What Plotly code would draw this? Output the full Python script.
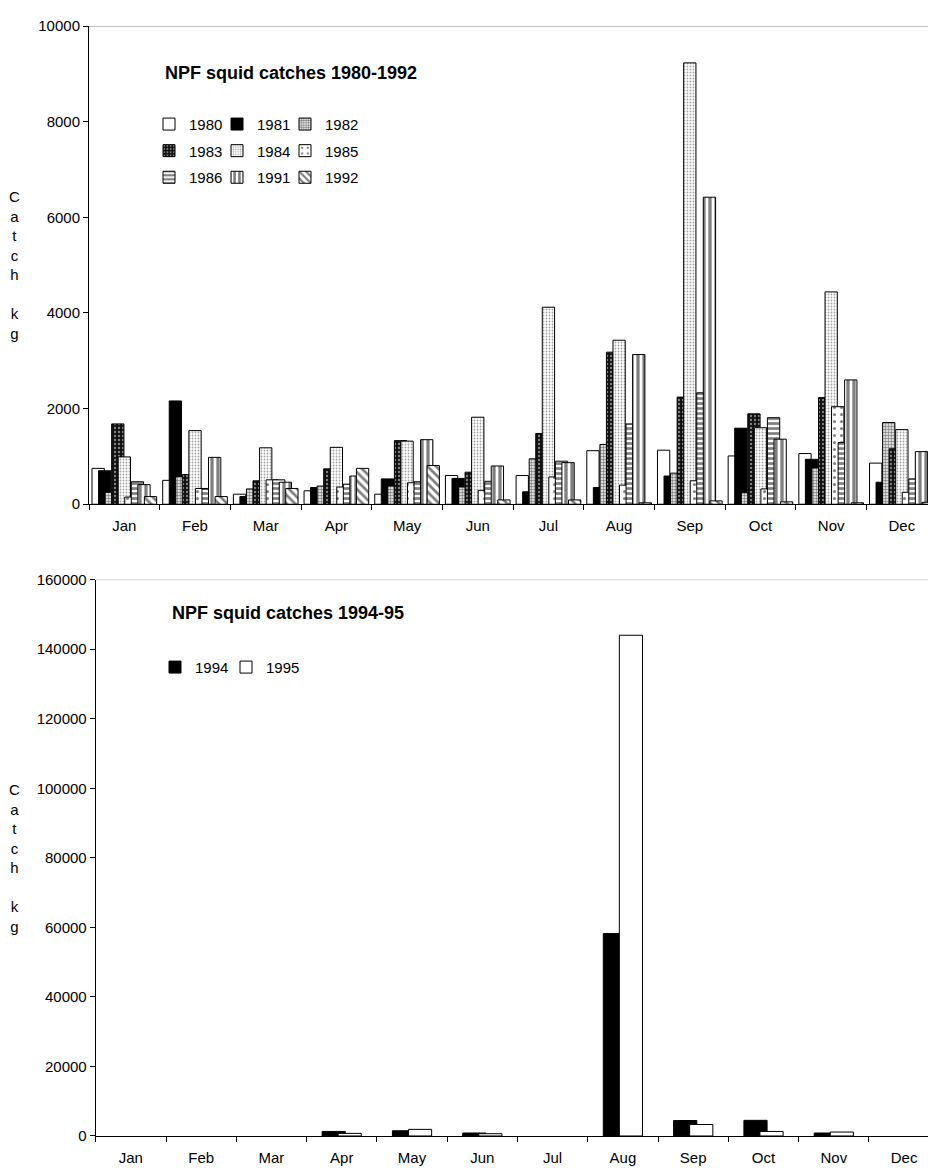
import plotly.graph_objects as go

# ---------------- data ----------------
months = ["Jan", "Feb", "Mar", "Apr", "May", "Jun", "Jul", "Aug", "Sep", "Oct", "Nov", "Dec"]

years_top = ["1980", "1981", "1982", "1983", "1984", "1985", "1986", "1991", "1992"]
catch_1980 = [750, 500, 210, 280, 210, 600, 600, 1120, 1130, 1010, 1060, 860]
catch_1981 = [700, 2160, 160, 350, 530, 540, 260, 350, 590, 1590, 940, 460]
catch_1982 = [250, 580, 320, 380, 380, 360, 950, 1250, 650, 240, 760, 1710]
catch_1983 = [1680, 620, 490, 740, 1330, 670, 1480, 3180, 2240, 1890, 2230, 1160]
catch_1984 = [990, 1540, 1180, 1190, 1320, 1820, 4120, 3430, 9230, 1600, 4440, 1560]
catch_1985 = [150, 330, 510, 360, 450, 290, 570, 400, 490, 320, 2040, 250]
catch_1986 = [470, 320, 510, 420, 470, 480, 900, 1680, 2330, 1810, 1290, 530]
catch_1991 = [410, 980, 460, 590, 1350, 800, 870, 3130, 6420, 1360, 2600, 1100]
catch_1992 = [160, 160, 330, 750, 810, 90, 90, 30, 70, 50, 30, 40]

years_bottom = ["1994", "1995"]
catch_1994 = [0, 0, 0, 1300, 1500, 850, 0, 58200, 4450, 4500, 850, 0]
catch_1995 = [0, 0, 0, 750, 1900, 650, 0, 144000, 3300, 1300, 1130, 0]

top_series = [catch_1980, catch_1981, catch_1982, catch_1983, catch_1984,
              catch_1985, catch_1986, catch_1991, catch_1992]
bottom_series = [catch_1994, catch_1995]

# ---------------- styles ----------------
FONT = "Liberation Sans, Arial, sans-serif"
W, H = 928, 1176

top_styles = [
    dict(color="white"),
    dict(color="black"),
    dict(color="white", pattern=dict(shape=".", fgcolor="#000", bgcolor="#fff", size=3, solidity=0.55)),
    dict(color="black", pattern=dict(shape=".", fgcolor="#fff", bgcolor="#111", size=4, solidity=0.25)),
    dict(color="white", pattern=dict(shape=".", fgcolor="#444", bgcolor="#fff", size=3, solidity=0.3)),
    dict(color="white", pattern=dict(shape=".", fgcolor="#000", bgcolor="#fff", size=7, solidity=0.15)),
    dict(color="white", pattern=dict(shape="-", fgcolor="#000", bgcolor="#fff", size=5, solidity=0.55)),
    dict(color="white", pattern=dict(shape="|", fgcolor="#000", bgcolor="#fff", size=6, solidity=0.55)),
    dict(color="white", pattern=dict(shape="\\", fgcolor="#000", bgcolor="#fff", size=6, solidity=0.45)),
]

fig = go.Figure()

def legname(k):
    return "legend" if k == 1 else "legend%d" % k

def outline_widths(vals):
    return [1 if v else 0 for v in vals]

n_top = len(years_top)
w_top = 0.174
step_top = 0.0926
start_top = -(step_top * (n_top - 1) + w_top) / 2
for i, (yr, vals) in enumerate(zip(years_top, top_series)):
    mk = dict(top_styles[i])
    mk["line"] = dict(color="black", width=1)
    fig.add_trace(go.Bar(
        x=months, y=vals, name=yr, marker=mk,
        width=w_top, offset=start_top + i * step_top,
        xaxis="x", yaxis="y", legend=legname(i + 1), showlegend=True,
    ))

bottom_colors = ["black", "white"]
w_bot = 0.33
step_bot = 0.228
start_bot = -(step_bot + w_bot) / 2
for i, (yr, vals) in enumerate(zip(years_bottom, bottom_series)):
    # data bars (zero-valued months drawn without an outline)
    fig.add_trace(go.Bar(
        x=months, y=vals, name=yr, legendgroup=yr,
        marker=dict(color=bottom_colors[i], line=dict(color="black", width=outline_widths(vals))),
        width=w_bot, offset=start_bot + i * step_bot,
        xaxis="x2", yaxis="y2", showlegend=False,
    ))
    # legend entry only
    fig.add_trace(go.Bar(
        x=[None], y=[None], name=yr, legendgroup=yr,
        marker=dict(color=bottom_colors[i], line=dict(color="black", width=1)),
        xaxis="x2", yaxis="y2", legend=legname(n_top + i + 1), showlegend=True,
        hoverinfo="skip",
    ))

def px_y(py):
    return 1 - py / H

axis_common = dict(showline=True, linecolor="black", linewidth=1, showgrid=False,
                   zeroline=False, ticks="outside", ticklen=5, tickcolor="black",
                   tickwidth=1)

top_y0, top_y1 = 502.5, 17.3
bot_y0, bot_y1 = 1143.5, 579.0

fig.update_layout(
    width=W, height=H,
    margin=dict(l=0, r=0, t=0, b=0),
    paper_bgcolor="white", plot_bgcolor="white",
    barmode="overlay", showlegend=True,
    font=dict(family=FONT, color="black", size=15),
    xaxis=dict(domain=[89 / W, 1], anchor="y", type="category", range=[-0.5, 11.37],
               tickson="boundaries", tickfont=dict(size=15), ticklabelstandoff=8,
               **axis_common),
    yaxis=dict(domain=[px_y(top_y0), px_y(top_y1)], anchor="x", range=[0, 10000],
               dtick=2000, tickformat="d", tickfont=dict(size=15), **axis_common),
    xaxis2=dict(domain=[95.7 / W, 1], anchor="y2", type="category", range=[-0.5, 11.34],
                tickson="boundaries", tickfont=dict(size=15), ticklabelstandoff=8,
                **axis_common),
    yaxis2=dict(domain=[px_y(bot_y0), px_y(bot_y1)], anchor="x2", range=[0, 160000],
                dtick=20000, tickformat="d", tickfont=dict(size=15), **axis_common),
)

leg_common = dict(orientation="h", xanchor="left", yanchor="middle",
                  bgcolor="rgba(0,0,0,0)", borderwidth=0,
                  font=dict(family=FONT, size=15, color="black"),
                  itemclick=False, itemdoubleclick=False, visible=True)

# legend grid: 3 columns x 3 rows for the top chart, one row for the bottom chart
col_x = [149, 217, 285]
row_y = [117, 144, 171]
legend_layout = {}
for i in range(n_top):
    r, c = divmod(i, 3)
    legend_layout[legname(i + 1)] = dict(x=col_x[c] / W, y=px_y(row_y[r]), **leg_common)
bot_x = [155, 226]
for i in range(len(years_bottom)):
    legend_layout[legname(n_top + i + 1)] = dict(x=bot_x[i] / W, y=px_y(668), **leg_common)
fig.update_layout(**legend_layout)

# top border lines of plot areas
for xr, yref, yv in (("x domain", "y", 10000), ("x2 domain", "y2", 160000)):
    fig.add_shape(type="line", xref=xr, x0=0, x1=1, yref=yref, y0=yv, y1=yv,
                  line=dict(color="#8c8c8c", width=1))

ylabel = "C<br>a<br>t<br>c<br>h<br><br>k<br>g"
for (a, b) in ((top_y0, top_y1), (bot_y0, bot_y1)):
    fig.add_annotation(text=ylabel, xref="paper", yref="paper", x=14 / W,
                       y=px_y((a + b) / 2), xanchor="center", yanchor="middle",
                       showarrow=False, font=dict(size=15, family=FONT))

fig.add_annotation(text="<b>NPF squid catches 1980-1992</b>", xref="paper", yref="paper",
                   x=163 / W, y=px_y(65), xanchor="left", yanchor="middle",
                   showarrow=False, font=dict(size=18, family=FONT))
fig.add_annotation(text="<b>NPF squid catches 1994-95</b>", xref="paper", yref="paper",
                   x=170 / W, y=px_y(613), xanchor="left", yanchor="middle",
                   showarrow=False, font=dict(size=18, family=FONT))

fig.write_html("out.html", config={"displayModeBar": False},
               post_script="document.body.style.margin='0';document.body.style.overflow='hidden';")
